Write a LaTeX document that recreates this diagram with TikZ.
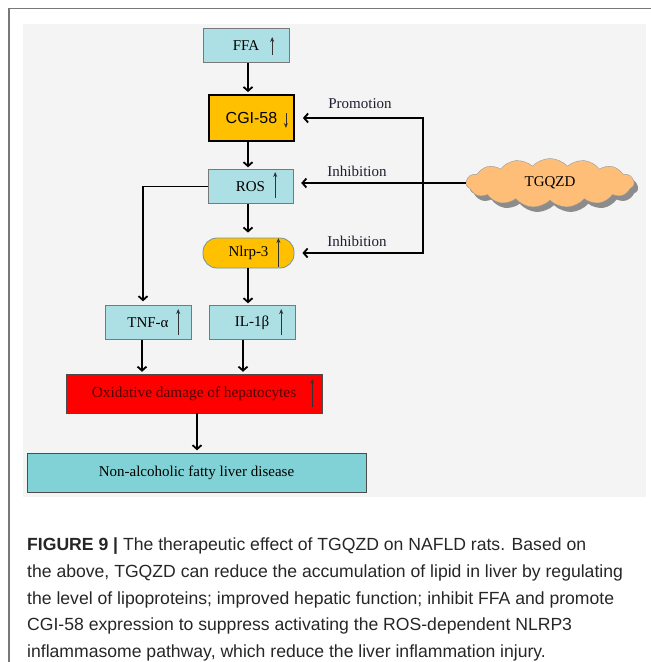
\documentclass[tikz,border=0pt]{standalone}
\usepackage{fontspec}
\setmainfont{Liberation Serif}
\newfontfamily\capfont{Liberation Sans}
\usepackage{xcolor}
\usepackage{tikz}
\usetikzlibrary{positioning,calc,shapes.symbols,shadows,arrows.meta}
\definecolor{panelgray}{RGB}{244,244,244}
\definecolor{framegray}{RGB}{120,120,120}
\definecolor{lightcyan}{RGB}{172,224,228}
\definecolor{deepcyan}{RGB}{128,210,214}
\definecolor{boxgold}{RGB}{255,192,0}
\definecolor{cloudorange}{RGB}{255,190,120}
\definecolor{nlrpedge}{RGB}{110,150,170}
\definecolor{damagetext}{RGB}{80,0,0}
\definecolor{tagtext}{RGB}{30,30,50}
\tikzset{
    flow/.style={draw=black, line width=1.8pt, shorten >=2pt, -{Straight Barb[length=4pt,width=9pt]}},
    levelarrow/.style={draw=black!80, line width=0.8pt, -{Stealth[length=5pt,width=4pt]}},
    tag/.style={font=\fontsize{15}{17}\selectfont, text=tagtext}
}

\begin{document}
\begin{tikzpicture}[x=1pt, y=-1pt,
        cyanbox/.style={draw=framegray, fill=lightcyan, minimum width=86pt, minimum height=34pt, inner sep=0pt, font=\fontsize{15}{17}\selectfont},
        goldbox/.style={draw=black, line width=1.8pt, fill=boxgold, minimum width=85pt, minimum height=46pt, inner sep=0pt, font=\capfont\fontsize{16}{18}\selectfont},
        pillbox/.style={draw=nlrpedge, line width=0.8pt, rounded corners=14pt, fill=boxgold, minimum width=91pt, minimum height=30pt, inner sep=0pt, font=\fontsize{15}{17}\selectfont},
        redbox/.style={draw=black!70, fill=red, minimum width=256pt, minimum height=39pt, inner sep=0pt, text=damagetext, font=\fontsize{15.3}{17}\selectfont},
        basebox/.style={draw=black!70, fill=deepcyan, minimum width=339pt, minimum height=39pt, inner sep=0pt, font=\fontsize{15}{17}\selectfont},
        cloudbox/.style={cloud, cloud puffs=15, cloud puff arc=95, cloud ignores aspect, minimum width=168pt, minimum height=49pt, draw=black!40, fill=cloudorange, font=\fontsize{15}{17}\selectfont, drop shadow={shadow xshift=4pt, shadow yshift=-5pt, fill=black!55, opacity=0.8}}
    ]
    \useasboundingbox (0,0) rectangle (651,662);
    % --- frame and panel ---
    \draw[framegray, line width=1.5pt] (9,662) -- (9,8.5) -- (651,8.5);
    \fill[panelgray] (23,24) rectangle (646,497);
    % --- nodes ---
    \node[cyanbox] (ffa) at (246,45.5) {FFA};
    \node[goldbox] (cgi) at (251.5,118) {CGI-58};
    \node[cyanbox, minimum width=85pt] (ros) at (250.5,186.5) {ROS};
    \node[pillbox] (nlrp) at (248.5,253) {Nlrp-3};
    \node[cyanbox] (tnfa) at (148,322.5) {TNF-α};
    \node[cyanbox] (il) at (252,322.5) {IL-1β};
    \node[redbox] (oxid) at (194,393.5) {Oxidative damage of hepatocytes};
    \node[basebox] (nafld) at (196.5,473) {Non-alcoholic fatty liver disease};
    \node[cloudbox] (tgqzd) at (550,183) {TGQZD};
    % --- up / down marks ---
    \draw[levelarrow] ([shift={(-17,9.5)}]ffa.east) -- ([shift={(-17,-8.5)}]ffa.east);
    \draw[levelarrow] ([shift={(-9,-5)}]cgi.east) -- ([shift={(-9,10)}]cgi.east);
    \draw[levelarrow] ([shift={(-18,11.5)}]ros.east) -- ([shift={(-18,-14.5)}]ros.east);
    \draw[levelarrow] ([shift={(-16,14)}]nlrp.east) -- ([shift={(-16,-15)}]nlrp.east);
    \draw[levelarrow] ([shift={(-13,12.5)}]tnfa.east) -- ([shift={(-13,-13.5)}]tnfa.east);
    \draw[levelarrow] ([shift={(-14,12.5)}]il.east) -- ([shift={(-14,-13.5)}]il.east);
    \draw[levelarrow] ([shift={(-10,13.5)}]oxid.east) -- ([shift={(-10,-14.5)}]oxid.east);
    % --- connectors ---
    \coordinate (spine) at (248,0);
    \coordinate (junc) at (423,0);
    \draw[flow] (ffa.south -| spine) -- (cgi.north -| spine);
    \draw[flow] (cgi.south -| spine) -- (ros.north -| spine);
    \draw[flow, shorten >=5pt] (ros.south -| spine) -- (nlrp.north -| spine);
    \draw[flow] (nlrp.south -| spine) -- (il.north -| spine);
    \draw[flow, shorten >=4pt] (ros.west) -| ([xshift=-5pt]tnfa.north);
    \draw[flow] ([xshift=-6pt]tnfa.south) -- ([xshift=-6pt]tnfa.south |- oxid.north);
    \draw[flow] ([xshift=-9pt]il.south) -- ([xshift=-9pt]il.south |- oxid.north);
    \draw[flow, shorten >=3pt] ([xshift=3pt]oxid.south) -- ([xshift=3pt]oxid.south |- nafld.north);
    \draw[flow, shorten >=8pt] (tgqzd.west) -- (tgqzd.west -| ros.east);
    \draw[flow, shorten >=8pt] (tgqzd.west -| junc) |- (cgi.east);
    \draw[flow, shorten >=8pt] (tgqzd.west -| junc) |- (nlrp.east);
    % --- labels ---
    \node[tag] (promo) at (360,104) {Promotion};
    \node[tag] (inhros) at (357,171) {Inhibition};
    \node[tag] (inhnlrp) at (357,241) {Inhibition};
    % --- caption ---
    \node[anchor=north west, inner sep=0pt, align=left, text=black!85,
          font=\capfont\fontsize{17.6}{26.6}\selectfont] (caption) at (27,538)
        {\textbf{FIGURE 9 |} The therapeutic effect of TGQZD on NAFLD rats. Based on\\
         the above, TGQZD can reduce the accumulation of lipid in liver by regulating\\
         the level of lipoproteins; improved hepatic function; inhibit FFA and promote\\
         CGI-58 expression to suppress activating the ROS-dependent NLRP3\\
         inflammasome pathway, which reduce the liver inflammation injury.};
\end{tikzpicture}
\end{document}
